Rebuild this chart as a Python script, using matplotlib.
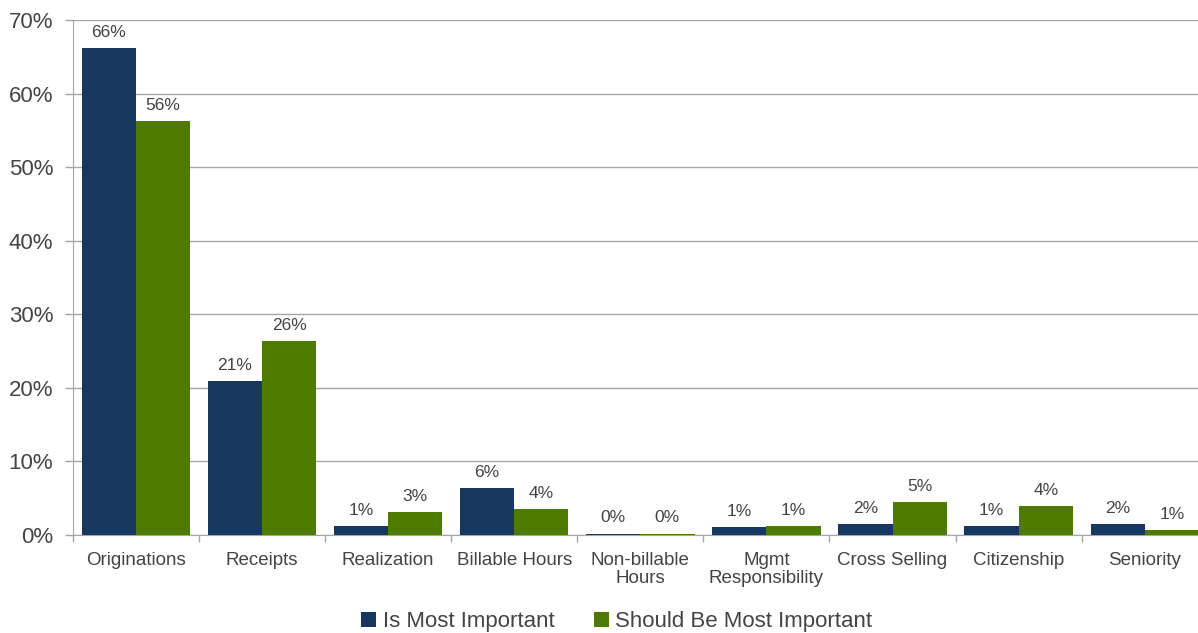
import matplotlib
matplotlib.use("Agg")
import matplotlib.pyplot as plt
import numpy as np

categories = ["Originations", "Receipts", "Realization", "Billable Hours", "Non-billable\nHours",
              "Mgmt\nResponsibility", "Cross Selling", "Citizenship", "Seniority"]
is_most = [66.2, 20.9, 1.2, 6.4, 0.2, 1.1, 1.5, 1.2, 1.5]
should_be = [56.3, 26.4, 3.1, 3.5, 0.2, 1.2, 4.5, 3.9, 0.7]
is_labels = ["66%", "21%", "1%", "6%", "0%", "1%", "2%", "1%", "2%"]
should_labels = ["56%", "26%", "3%", "4%", "0%", "1%", "5%", "4%", "1%"]
series_names = ["Is Most Important", "Should Be Most Important"]

plt.rcParams['font.family'] = ['Liberation Sans', 'DejaVu Sans']
navy = "#17375E"
green = "#4F7A00"
txt = "#444444"
gridc = "#A6A6A6"

fig = plt.figure(figsize=(11.98, 6.33), dpi=100)
ax = fig.add_axes([72.8/1198, 1-535/633, 1135/1198, (535-20)/633])

x = np.arange(len(categories))
w = 0.43
b1 = ax.bar(x - w/2, is_most, w, color=navy, label=series_names[0], zorder=3)
b2 = ax.bar(x + w/2, should_be, w, color=green, label=series_names[1], zorder=3)

for rect, lab in zip(b1, is_labels):
    ax.text(rect.get_x() + rect.get_width()/2, rect.get_height() + 1.1, lab,
            ha='center', va='bottom', fontsize=12.5, color=txt)
for rect, lab in zip(b2, should_labels):
    ax.text(rect.get_x() + rect.get_width()/2, rect.get_height() + 1.1, lab,
            ha='center', va='bottom', fontsize=12.5, color=txt)

ax.set_xlim(-0.5, len(categories) - 0.5)
ax.set_ylim(0, 70)
ax.set_yticks(np.arange(0, 71, 10))
ax.set_yticklabels([f"{v}%" for v in range(0, 71, 10)], fontsize=16, color=txt)
ax.yaxis.grid(True, color=gridc, linewidth=1, zorder=0)
ax.set_axisbelow(True)

ax.set_xticks(x)
ax.set_xticklabels(categories, fontsize=13.5, color=txt, linespacing=1.1)
ax.set_xticks(np.arange(-0.5, len(categories), 1), minor=True)
ax.tick_params(axis='x', which='major', length=0, pad=12)
ax.tick_params(axis='x', which='minor', length=5, color=gridc, width=1)
ax.tick_params(axis='y', length=6, color=gridc, width=1, pad=8)

for s in ['top', 'right']:
    ax.spines[s].set_visible(False)
ax.spines['left'].set_color(gridc)
ax.spines['bottom'].set_color(gridc)

leg = fig.legend(handles=[b1, b2], labels=series_names, loc='lower center',
                 bbox_to_anchor=(0.515, -0.03), ncol=2, frameon=False,
                 fontsize=16, handlelength=0.65, handleheight=0.65,
                 handletextpad=0.3, columnspacing=1.8)
for t in leg.get_texts():
    t.set_color(txt)

fig.savefig("out.png", dpi=100)
